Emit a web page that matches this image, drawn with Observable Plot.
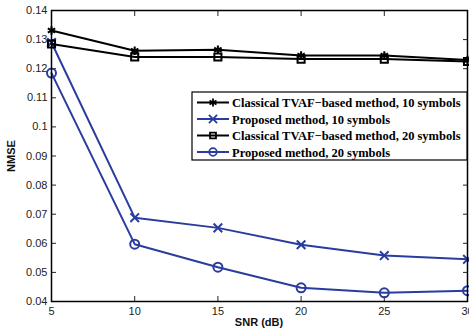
<!DOCTYPE html>
<html><head><meta charset="utf-8">
<script src="https://cdn.jsdelivr.net/npm/d3@7"></script>
<script src="https://cdn.jsdelivr.net/npm/@observablehq/plot@0.6"></script>
<style>
html,body{margin:0;padding:0;background:#fff;}
#chart{position:relative;width:469px;height:332px;}
</style>
</head><body><div id="chart"></div>
<script>
const snr = [5, 10, 15, 20, 25, 30];
const classical10 = [0.1331, 0.1262, 0.1265, 0.1245, 0.1245, 0.1230];
const proposed10  = [0.1290, 0.0688, 0.0653, 0.0595, 0.0558, 0.0545];
const classical20 = [0.1285, 0.1240, 0.1240, 0.1233, 0.1233, 0.1225];
const proposed20  = [0.1185, 0.0597, 0.0518, 0.0447, 0.0430, 0.0437];
const seriesNames = [
  "Classical TVAF\u2212based method, 10 symbols",
  "Proposed method, 10 symbols",
  "Classical TVAF\u2212based method, 20 symbols",
  "Proposed method, 20 symbols"
];
const seriesValues = [classical10, proposed10, classical20, proposed20];
const seriesColors = ["#000000", "#2a3d9e", "#000000", "#2a3d9e"];
const seriesSymbols = ["asterisk", "times", "square", "circle"];
const xTicks = [5, 10, 15, 20, 25, 30];
const yTicks = [0.04, 0.05, 0.06, 0.07, 0.08, 0.09, 0.1, 0.11, 0.12, 0.13, 0.14];

const rows = [];
seriesNames.forEach((name, i) => snr.forEach((x, j) => rows.push({series: name, idx: i, x, y: seriesValues[i][j]})));

const marks = [];
seriesNames.forEach((name, i) => {
  const d = rows.filter(r => r.idx === i);
  marks.push(Plot.line(d, {x: "x", y: "y", stroke: seriesColors[i], strokeWidth: 2}));
  marks.push(Plot.dot(d, {x: "x", y: "y", stroke: seriesColors[i], symbol: () => seriesSymbols[i], r: seriesSymbols[i] === "circle" ? 4.5 : 4, strokeWidth: 2, fill: "none"}));
});

const plot = Plot.plot({
  width: 469, height: 332,
  marginLeft: 51, marginRight: 2, marginTop: 10, marginBottom: 31,
  style: {fontFamily: "Liberation Sans, Arial, sans-serif", fontSize: "11px", color: "#222", background: "#fff"},
  x: {domain: [5, 30], label: null},
  y: {domain: [0.04, 0.14], label: null},
  marks: [
    Plot.axisX({ticks: xTicks, anchor: "bottom", tickSize: -5, tickPadding: 11, label: null}),
    Plot.axisX({ticks: xTicks, anchor: "top", tickSize: -5, tickFormat: () => "", label: null}),
    Plot.axisY({ticks: yTicks, anchor: "left", tickSize: -5, tickPadding: 9, tickFormat: d => String(+d.toFixed(2)), label: null}),
    Plot.axisY({ticks: yTicks, anchor: "right", tickSize: -5, tickFormat: () => "", label: null}),
    ...marks,
    Plot.frame({stroke: "#000", strokeWidth: 1.5})
  ]
});
document.getElementById("chart").appendChild(plot);

const svg = d3.select(plot);
// axis titles
svg.append("text").attr("x", 259).attr("y", 326).attr("text-anchor", "middle")
  .attr("font-family", "Liberation Sans, Arial, sans-serif").attr("font-weight", "bold").attr("font-size", 11)
  .attr("fill", "#111").text("SNR (dB)");
svg.append("text").attr("transform", "translate(15,156) rotate(-90)").attr("text-anchor", "middle")
  .attr("font-family", "Liberation Sans, Arial, sans-serif").attr("font-weight", "bold").attr("font-size", 11)
  .attr("fill", "#111").text("NMSE");

// legend
const lg = svg.append("g").attr("text-anchor", "start");
lg.append("rect").attr("x", 192).attr("y", 92).attr("width", 275).attr("height", 68)
  .attr("fill", "#fff").attr("stroke", "#000").attr("stroke-width", 1.2);
const symMap = {asterisk: d3.symbolAsterisk, times: d3.symbolTimes, square: d3.symbolSquare2, circle: d3.symbolCircle};
seriesNames.forEach((name, i) => {
  const y = 102.5 + i * 16.5;
  lg.append("line").attr("x1", 197).attr("x2", 229).attr("y1", y).attr("y2", y)
    .attr("stroke", seriesColors[i]).attr("stroke-width", 2);
  lg.append("path").attr("transform", `translate(213,${y})`)
    .attr("d", d3.symbol(symMap[seriesSymbols[i]], 45)())
    .attr("fill", "none").attr("stroke", seriesColors[i]).attr("stroke-width", 1.8);
  lg.append("text").attr("x", 232).attr("y", y + 4.5).attr("text-anchor", "start")
    .attr("font-family", "Liberation Serif, Times New Roman, serif").attr("font-weight", "bold").attr("font-size", 12.5)
    .attr("fill", "#000").text(name);
});
</script>
</body></html>
